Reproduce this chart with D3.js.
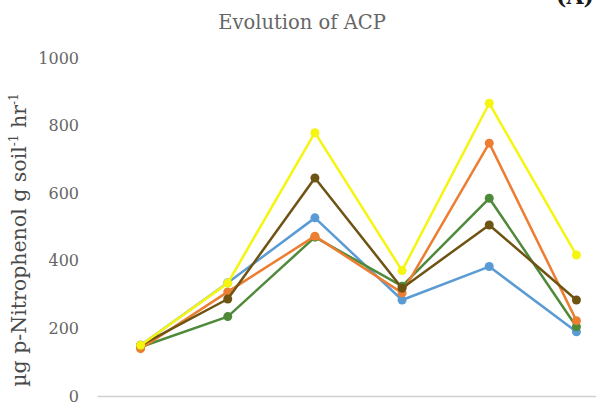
<!DOCTYPE html>
<html>
<head>
<meta charset="utf-8">
<script src="https://cdn.jsdelivr.net/npm/d3@7"></script>
<style>
  html, body { margin: 0; padding: 0; background: #fff; }
  svg { display: block; }
</style>
</head>
<body>
<svg id="chart" width="596" height="405"></svg>
<script>
// Sampling stages along the x axis (not labelled on the chart)
const categories = ["T1", "T2", "T3", "T4", "T5", "T6"];

// ACP activity per treatment (µg p-Nitrophenol g soil⁻¹ hr⁻¹)
const seriesBlue   = [150, 335, 527, 284, 383, 190];
const seriesGreen  = [145, 235, 470, 325, 585, 205];
const seriesOrange = [140, 308, 473, 305, 748, 223];
const seriesBrown  = [150, 287, 645, 319, 506, 284];
const seriesYellow = [150, 334, 779, 371, 866, 417];

const yTicks = [0, 200, 400, 600, 800, 1000];

const series = [
  { name: "Blue",   values: seriesBlue,   color: "#5B9BD5" },
  { name: "Green",  values: seriesGreen,  color: "#4F8A3A" },
  { name: "Orange", values: seriesOrange, color: "#ED7D31" },
  { name: "Brown",  values: seriesBrown,  color: "#6E5412" },
  { name: "Yellow", values: seriesYellow, color: "#F5F50F" }
];

const svg = d3.select("#chart");

const x = d3.scaleBand().domain(categories).range([97, 620]);
const y = d3.scaleLinear().domain([0, 1000]).range([396, 58]);
const cx = d => x(d) + x.bandwidth() / 2;

const serif = "'DejaVu Serif', 'Liberation Serif', serif";

// Title
svg.append("text")
  .attr("x", 302).attr("y", 29)
  .attr("text-anchor", "middle")
  .attr("font-family", serif)
  .attr("font-size", 19.5)
  .attr("fill", "#666")
  .text("Evolution of ACP");

// Panel letter in the top-right corner
svg.append("text")
  .attr("x", 556).attr("y", 4)
  .attr("font-family", serif)
  .attr("font-weight", "bold")
  .attr("font-size", 22)
  .attr("fill", "#1a1a1a")
  .text("(A)");

// Y axis tick labels (no axis line)
const yAxis = d3.axisLeft(y).tickValues(yTicks).tickFormat(d3.format("d")).tickSize(0).tickPadding(0);
const gy = svg.append("g").attr("transform", "translate(79,0)").call(yAxis);
gy.select(".domain").remove();
gy.selectAll("text")
  .attr("font-family", serif)
  .attr("font-size", 16)
  .attr("fill", "#666");

// Baseline (category axis)
const xAxis = d3.axisBottom(x).tickSize(0).tickFormat("");
const gx = svg.append("g").attr("transform", `translate(0,${y(0)})`).call(xAxis);
gx.select(".domain").attr("stroke", "#d0d0d0").attr("stroke-width", 1.5);

// Y axis title with superscripts
const yt = svg.append("text")
  .attr("transform", "translate(26,240) rotate(-90)")
  .attr("text-anchor", "middle")
  .attr("font-family", serif)
  .attr("font-size", 20.5)
  .attr("fill", "#4a4a4a");
yt.append("tspan").text("µg p-Nitrophenol g soil");
yt.append("tspan").attr("dy", -8).attr("font-size", 12).text("-1");
yt.append("tspan").attr("dy", 8).text(" hr");
yt.append("tspan").attr("dy", -8).attr("font-size", 12).text("-1");

// Lines and markers
const line = d3.line().x((d, i) => cx(categories[i])).y(d => y(d));

const g = svg.append("g");
series.forEach(s => {
  g.append("path")
    .datum(s.values)
    .attr("d", line)
    .attr("fill", "none")
    .attr("stroke", s.color)
    .attr("stroke-width", 2.5)
    .attr("stroke-linejoin", "round");
  g.selectAll(null)
    .data(s.values)
    .join("circle")
    .attr("cx", (d, i) => cx(categories[i]))
    .attr("cy", d => y(d))
    .attr("r", 4.5)
    .attr("fill", s.color);
});
</script>
</body>
</html>
